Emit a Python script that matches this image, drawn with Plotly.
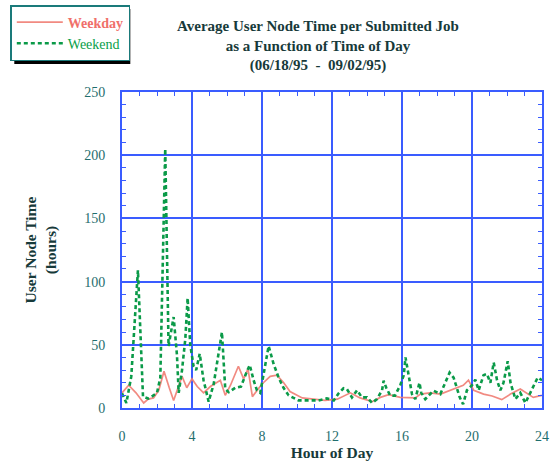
import plotly.graph_objects as go

# ---- data ----
weekday_hours = [0, 0.38, 0.8, 1.24, 1.5, 1.8, 2.1, 2.4, 2.7, 2.95, 3.43, 3.7, 4.0, 4.3,
                 4.66, 5.05, 5.62, 5.9, 6.2, 6.65, 6.95, 7.2, 7.45, 7.7, 8.0, 8.47, 8.85,
                 9.24, 9.6, 10.3, 10.8, 11.6, 12.3, 13.05, 13.6, 14.3, 14.76, 15.24, 15.9,
                 16.3, 16.76, 17.05, 17.6, 18.2, 18.95, 19.5, 19.8, 20.1, 20.66, 21.15,
                 21.7, 22.2, 22.76, 23.1, 23.5, 24.0]
weekday_vals = [12, 18, 12, 4, 7, 8, 14, 29, 16, 6, 25, 16, 23, 17,
                12, 17, 22, 10, 18, 33, 23, 31, 9, 14, 19, 25, 26,
                20, 13, 8, 7, 6, 7, 12, 8, 5, 8.4, 10.6, 8.4,
                8, 8, 11, 12, 11, 15, 18, 22, 14, 11, 9.5,
                6.6, 11, 15, 12, 8.4, 10]

weekend_hours = [0, 0.25, 0.53, 0.91, 1.2, 1.5, 1.7, 2.0, 2.19, 2.47, 2.66, 2.86, 2.95,
                 3.14, 3.24, 3.43, 3.62, 3.75, 3.9, 4.09, 4.24, 4.44, 4.66, 4.95, 5.24,
                 5.62, 5.71, 5.9, 6.1, 6.48, 6.8, 7.14, 7.3, 7.52, 7.71, 7.9, 8.19, 8.38,
                 8.66, 8.95, 9.23, 9.52, 10.09, 10.4, 10.8, 11.23, 11.7, 12.1, 12.38,
                 12.66, 12.85, 13.14, 13.43, 13.71, 14.0, 14.29, 14.57, 14.86, 14.95,
                 15.1, 15.33, 15.6, 15.9, 16.1, 16.2, 16.4, 16.57, 16.76, 17.0, 17.1,
                 17.33, 17.8, 18.19, 18.47, 18.72, 18.95, 19.14, 19.3, 19.49, 19.71,
                 20.0, 20.19, 20.38, 20.66, 20.85, 21.05, 21.24, 21.43, 21.62, 21.8,
                 22.04, 22.2, 22.48, 22.76, 23.05, 23.43, 23.75, 24.0]
weekend_vals = [11.6, 4, 25, 109, 9, 7.5, 9, 12, 24, 205, 49, 63, 72,
                42, 12, 30, 55, 87, 50, 33, 30, 43, 22, 5, 19,
                52, 60, 15, 12.5, 16, 17, 29, 34, 22, 14, 12, 35, 49,
                35, 24, 16, 10, 6, 6, 5.5, 6, 7.6, 6, 11.6,
                15.6, 15, 8.4, 14, 8.4, 8.4, 4, 7, 14, 21.6,
                16, 9.8, 9.8, 18, 26, 40, 24, 11, 7, 20, 12,
                7, 13.7, 11, 20, 28, 24, 16, 8.4, 3, 14,
                18, 22.4, 14, 26, 27, 20, 36, 22, 14, 20,
                37, 20, 7, 12, 4, 15.6, 24, 22]

x_ticks = [0, 4, 8, 12, 16, 20, 24]
y_ticks = [0, 50, 100, 150, 200, 250]

title_lines = ["Average User Node Time per Submitted Job",
               "as a Function of Time of Day",
               "(06/18/95  -  09/02/95)"]

# ---- style ----
W, H = 550, 465
ML, MR, MT, MB = 121.7, 8.3, 92, 57
PW, PH = W - ML - MR, H - MT - MB
SERIF = "Liberation Serif"
GRID = "#3a5cff"
TICKC = "#1f6e6e"
DARK = "#173a3a"
GREEN = "#0a9a48"

fig = go.Figure()
fig.add_trace(go.Scatter(
    x=weekday_hours, y=weekday_vals, mode="lines",
    name='<span style="color:#f0706a"><b>Weekday</b></span>',
    line=dict(color="rgba(240,125,115,0.9)", width=1.7)))
fig.add_trace(go.Scatter(
    x=weekend_hours, y=weekend_vals, mode="lines",
    name='<span style="color:#0aa04a">Weekend</span>',
    line=dict(color=GREEN, width=2.6, dash="4px,3px")))

axis_common = dict(
    showgrid=True, gridcolor=GRID, gridwidth=1.5,
    showline=True, linecolor=GRID, linewidth=2, mirror="allticks",
    ticks="inside", ticklen=4, tickcolor=GRID, tickwidth=1,
    tickfont=dict(family=SERIF, size=14, color=TICKC),
    zeroline=False,
)

fig.update_xaxes(
    range=[0, 24], tickvals=x_ticks, ticktext=[str(v) for v in x_ticks],
    minor=dict(dtick=1, ticks="inside", ticklen=4, tickcolor=GRID, showgrid=False),
    ticklabelstandoff=14,
    title=dict(text="<b>Hour of Day</b>", font=dict(family=SERIF, size=15.5, color=DARK), standoff=2),
    **axis_common)
fig.update_yaxes(
    range=[0, 250], tickvals=y_ticks, ticktext=[str(v) for v in y_ticks],
    minor=dict(dtick=10, ticks="inside", ticklen=4, tickcolor=GRID, showgrid=False),
    ticklabelstandoff=12,
    title=dict(text="<b>User Node Time</b><br><b>(hours)</b>",
               font=dict(family=SERIF, size=15.5, color=DARK), standoff=24),
    **axis_common)

# legend drop shadow (paper coords)
def px_x(p):
    return (p - ML) / PW

def px_y(p):
    return (H - MB - p) / PH

fig.add_shape(type="rect", xref="paper", yref="paper",
              x0=px_x(14), x1=px_x(130), y0=px_y(64), y1=px_y(9),
              fillcolor="black", line=dict(width=0), layer="below")

fig.update_layout(
    width=W, height=H,
    margin=dict(l=ML, r=MR, t=MT, b=MB, autoexpand=False),
    paper_bgcolor="white", plot_bgcolor="white",
    title=dict(text="<br>".join("<b>%s</b>" % t for t in title_lines),
               x=318 / W, xanchor="center",
               y=1 - 31 / H, yanchor="top",
               font=dict(family=SERIF, size=15, color=DARK)),
    legend=dict(x=px_x(10), xanchor="left", y=px_y(5), yanchor="top",
                bgcolor="white", bordercolor="#1a7a7a", borderwidth=1.5,
                font=dict(family=SERIF, size=14), tracegroupgap=0,
                itemwidth=46),
    showlegend=True,
)

fig.write_html("out.html")
